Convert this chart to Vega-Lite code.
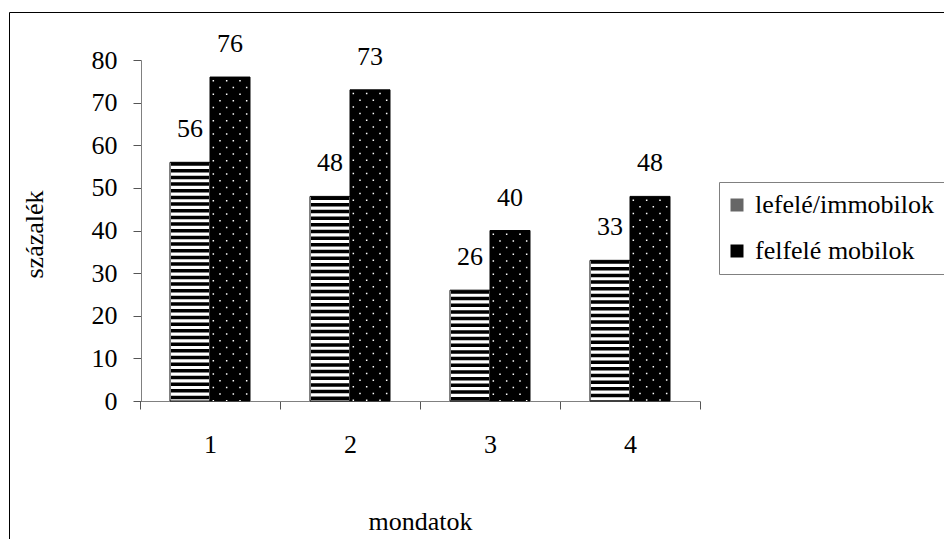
{
  "$schema": "https://vega.github.io/schema/vega-lite/v6.json",
  "width": 935,
  "height": 527,
  "autosize": {"type": "none"},
  "padding": {"left": 9, "top": 12, "right": 0, "bottom": 0},
  "background": "white",
  "config": {
    "view": {"stroke": "black", "strokeWidth": 1},
    "font": "'Liberation Serif', 'Times New Roman', Times, serif",
    "axis": {"grid": false}
  },
  "data": {
    "values": [
      {"m": "1", "s": "lefelé/immobilok", "v": 56},
      {"m": "1", "s": "felfelé mobilok", "v": 76},
      {"m": "2", "s": "lefelé/immobilok", "v": 48},
      {"m": "2", "s": "felfelé mobilok", "v": 73},
      {"m": "3", "s": "lefelé/immobilok", "v": 26},
      {"m": "3", "s": "felfelé mobilok", "v": 40},
      {"m": "4", "s": "lefelé/immobilok", "v": 33},
      {"m": "4", "s": "felfelé mobilok", "v": 48}
    ]
  },
  "encoding": {
    "x": {
      "field": "m",
      "type": "nominal",
      "scale": {"domain": ["1", "2", "3", "4"], "range": [131, 691], "paddingInner": 0, "paddingOuter": 0},
      "axis": {
        "title": "mondatok",
        "offset": -138,
        "tickBand": "extent",
        "labelAngle": 0,
        "labelFont": "'Liberation Serif', 'Times New Roman', Times, serif",
        "labelFontSize": 26,
        "labelColor": "black",
        "labelPadding": 22,
        "tickSize": 8,
        "tickColor": "#555555",
        "domainColor": "#808080",
        "titleFont": "'Liberation Serif', 'Times New Roman', Times, serif",
        "titleFontSize": 26,
        "titleFontWeight": "normal",
        "titleColor": "black",
        "titleX": 411,
        "titleY": 120,
        "titleBaseline": "middle",
        "titleAlign": "center"
      }
    },
    "y": {
      "field": "v",
      "type": "quantitative",
      "scale": {"domain": [0, 80], "range": [389, 48], "nice": false, "zero": true},
      "axis": {
        "title": "százalék",
        "offset": -132,
        "values": [0, 10, 20, 30, 40, 50, 60, 70, 80],
        "labelFont": "'Liberation Serif', 'Times New Roman', Times, serif",
        "labelFontSize": 26,
        "labelColor": "black",
        "labelPadding": 16,
        "tickSize": 8,
        "tickColor": "#555555",
        "domainColor": "#808080",
        "titleFont": "'Liberation Serif', 'Times New Roman', Times, serif",
        "titleFontSize": 26,
        "titleFontWeight": "normal",
        "titleColor": "black",
        "titleAngle": -90,
        "titleX": -107,
        "titleY": 222,
        "titleBaseline": "middle",
        "titleAlign": "center"
      }
    }
  },
  "layer": [
    {
      "mark": {"type": "point", "filled": true, "shape": "square", "opacity": 0},
      "encoding": {
        "color": {
          "field": "s",
          "type": "nominal",
          "scale": {"domain": ["lefelé/immobilok", "felfelé mobilok"], "range": ["#666666", "black"]},
          "legend": {
            "title": null,
            "orient": "none",
            "legendX": 710,
            "legendY": 170,
            "strokeColor": "#808080",
            "fillColor": "white",
            "padding": 10,
            "rowPadding": 20,
            "symbolType": "square",
            "symbolSize": 169,
            "symbolOffset": -5,
            "symbolStrokeWidth": 0,
            "symbolOpacity": 1,
            "labelFont": "'Liberation Serif', 'Times New Roman', Times, serif",
            "labelFontSize": 26,
            "labelColor": "black",
            "labelOffset": 5,
            "labelLimit": 400
          }
        }
      }
    },
    {
      "mark": {"type": "bar", "stroke": "black", "strokeWidth": 1},
      "encoding": {
        "xOffset": {
          "field": "s",
          "type": "nominal",
          "scale": {"domain": ["lefelé/immobilok", "felfelé mobilok"], "paddingInner": 0, "paddingOuter": 0.75}
        },
        "fill": {
          "field": "s",
          "type": "nominal",
          "scale": {"domain": ["lefelé/immobilok", "felfelé mobilok"], "range": ["white", "black"]},
          "legend": null
        }
      }
    },
    {
      "transform": [{"filter": "datum.s === 'lefelé/immobilok'"}],
      "mark": {"type": "rule", "color": "black", "strokeWidth": 38, "strokeDash": [3.5, 3.17], "xOffset": -20},
      "encoding": {"y2": {"datum": 0}}
    },
    {
      "transform": [{"filter": "datum.s === 'felfelé mobilok'"}],
      "mark": {"type": "rule", "color": "white", "strokeWidth": 1.5, "strokeDash": [1.5, 11.83], "strokeDashOffset": 10.33, "xOffset": 3.33},
      "encoding": {"y2": {"datum": 0}}
    },
    {
      "transform": [{"filter": "datum.s === 'felfelé mobilok'"}],
      "mark": {"type": "rule", "color": "white", "strokeWidth": 1.5, "strokeDash": [1.5, 11.83], "strokeDashOffset": 3.67, "xOffset": 10},
      "encoding": {"y2": {"datum": 0}}
    },
    {
      "transform": [{"filter": "datum.s === 'felfelé mobilok'"}],
      "mark": {"type": "rule", "color": "white", "strokeWidth": 1.5, "strokeDash": [1.5, 11.83], "strokeDashOffset": 10.33, "xOffset": 16.67},
      "encoding": {"y2": {"datum": 0}}
    },
    {
      "transform": [{"filter": "datum.s === 'felfelé mobilok'"}],
      "mark": {"type": "rule", "color": "white", "strokeWidth": 1.5, "strokeDash": [1.5, 11.83], "strokeDashOffset": 3.67, "xOffset": 23.33},
      "encoding": {"y2": {"datum": 0}}
    },
    {
      "transform": [{"filter": "datum.s === 'felfelé mobilok'"}],
      "mark": {"type": "rule", "color": "white", "strokeWidth": 1.5, "strokeDash": [1.5, 11.83], "strokeDashOffset": 10.33, "xOffset": 30},
      "encoding": {"y2": {"datum": 0}}
    },
    {
      "transform": [{"filter": "datum.s === 'felfelé mobilok'"}],
      "mark": {"type": "rule", "color": "white", "strokeWidth": 1.5, "strokeDash": [1.5, 11.83], "strokeDashOffset": 3.67, "xOffset": 36.67},
      "encoding": {"y2": {"datum": 0}}
    },
    {
      "mark": {"type": "text", "dy": -25, "baseline": "alphabetic", "align": "center", "fontSize": 26, "font": "'Liberation Serif', 'Times New Roman', Times, serif", "color": "black"},
      "encoding": {
        "xOffset": {
          "field": "s",
          "type": "nominal",
          "scale": {"domain": ["lefelé/immobilok", "felfelé mobilok"], "paddingInner": 0, "paddingOuter": 0.75}
        },
        "text": {"field": "v", "type": "quantitative"}
      }
    }
  ]
}
